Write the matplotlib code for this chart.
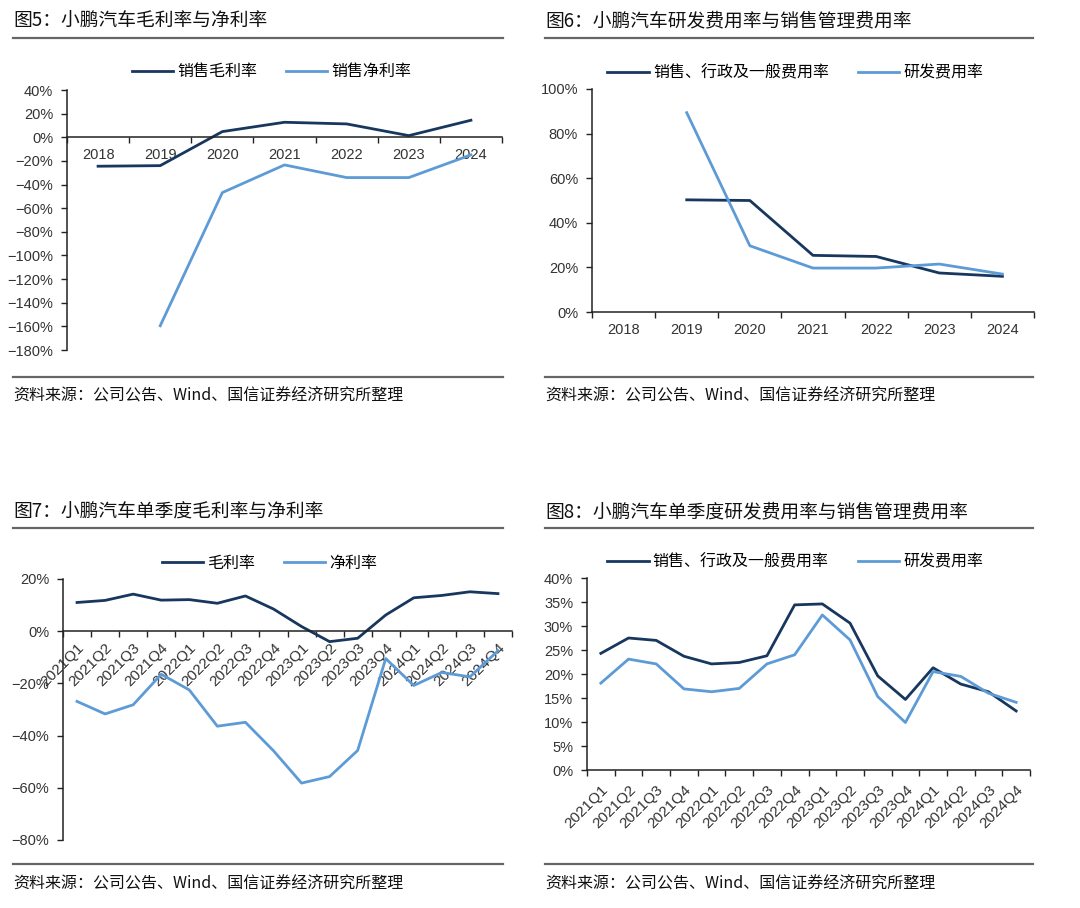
import numpy as np
import matplotlib
matplotlib.use("Agg")
import matplotlib.pyplot as plt
from matplotlib.lines import Line2D

plt.rcParams['font.family'] = ['Liberation Sans', 'Noto Sans CJK SC', 'DejaVu Sans']
plt.rcParams['axes.unicode_minus'] = True

# ---- data ----
years = ["2018", "2019", "2020", "2021", "2022", "2023", "2024"]
gross_margin_y = [-24.5, -24.0, 4.8, 12.7, 11.3, 1.4, 14.4]
net_margin_y = [np.nan, -159.5, -46.8, -23.4, -34.1, -34.1, -14.9]

sga_ratio_y = [np.nan, 50.3, 50.0, 25.4, 24.9, 17.5, 16.0]
rd_ratio_y = [np.nan, 89.4, 29.7, 19.7, 19.7, 21.5, 17.0]

quarters = ["2021Q1", "2021Q2", "2021Q3", "2021Q4", "2022Q1", "2022Q2", "2022Q3", "2022Q4",
            "2023Q1", "2023Q2", "2023Q3", "2023Q4", "2024Q1", "2024Q2", "2024Q3", "2024Q4"]
gross_margin_q = [11.0, 11.8, 14.2, 11.9, 12.1, 10.7, 13.5, 8.5,
                  1.8, -4.0, -2.7, 6.2, 12.8, 13.7, 15.1, 14.4]
net_margin_q = [-26.9, -31.7, -28.2, -16.5, -22.5, -36.4, -34.9, -45.8,
                -58.2, -55.7, -45.7, -10.5, -20.8, -15.8, -17.5, -7.5]

sga_ratio_q = [24.3, 27.5, 27.0, 23.7, 22.1, 22.4, 23.8, 34.4,
               34.6, 30.6, 19.6, 14.7, 21.3, 17.9, 16.3, 12.3]
rd_ratio_q = [18.1, 23.1, 22.1, 16.9, 16.3, 17.0, 22.1, 24.0,
              32.3, 27.1, 15.3, 9.9, 20.5, 19.5, 16.0, 14.1]

DARK = "#17375e"
LIGHT = "#5d9bd6"
W, H = 1080, 908

fig = plt.figure(figsize=(W / 100, H / 100), dpi=100)
fig.patch.set_facecolor("white")


def px_axes(left, right, top, bottom):
    return fig.add_axes([left / W, 1 - bottom / H, (right - left) / W, (bottom - top) / H])


def pct(v):
    return f"{v}%".replace("-", "\u2212")


def style_axes(ax, cats, yticks, rotate=False, xpad=9):
    n = len(cats)
    ax.set_xlim(-0.5, n - 0.5)
    ax.set_ylim(min(yticks), max(yticks))
    for s in ["top", "right"]:
        ax.spines[s].set_visible(False)
    ax.spines["bottom"].set_position(("data", 0))
    for s in ["left", "bottom"]:
        ax.spines[s].set_color("#222222")
        ax.spines[s].set_linewidth(1.1)
    ax.set_yticks(yticks)
    ax.set_yticklabels([pct(v) for v in yticks], fontsize=10.5, color="#333333")
    ax.tick_params(axis="y", direction="out", length=4, width=1.0, pad=6, color="#222222")
    ax.set_xticks(range(n))
    ax.set_xticks(np.arange(-0.5, n, 1.0), minor=True)
    ax.tick_params(axis="x", which="major", length=0, pad=xpad)
    ax.tick_params(axis="x", which="minor", direction="out", length=4, width=1.0, color="#222222")
    if rotate:
        ax.set_xticklabels(cats, rotation=45, ha="right", va="top", rotation_mode="anchor",
                           fontsize=11, color="#333333")
    else:
        ax.set_xticklabels(cats, fontsize=10.5, color="#333333")
    ax.patch.set_alpha(0)


def add_legend(ax, labels, xc, y):
    handles = [Line2D([], [], color=DARK, lw=2), Line2D([], [], color=LIGHT, lw=2)]
    ax.legend(handles, labels, loc="center", bbox_to_anchor=(xc, y), ncol=2, frameon=False,
              fontsize=11.5, handlelength=2.6, handletextpad=0.25, columnspacing=1.8)


def frame(x0, x1, title, ytitle, yline_top, yline_bot, yfoot):
    fig.text(x0 / W, 1 - ytitle / H, title, fontsize=13.5, va="center", ha="left",
             family=["Noto Sans CJK SC"], color="#111111")
    fig.add_artist(Line2D([x0 / W, x1 / W], [1 - yline_top / H] * 2, color="#666666", lw=1.6))
    fig.add_artist(Line2D([x0 / W, x1 / W], [1 - yline_bot / H] * 2, color="#666666", lw=1.6))
    fig.text(x0 / W, 1 - yfoot / H, "资料来源：公司公告、Wind、国信证券经济研究所整理", fontsize=11.5,
             va="center", ha="left", family=["Noto Sans CJK SC"], color="#111111")


# ---- 图5 ----
ax1 = px_axes(67, 502, 90, 350)
x = np.arange(len(years))
ax1.plot(x, gross_margin_y, color=DARK, lw=2)
ax1.plot(x, net_margin_y, color=LIGHT, lw=2)
style_axes(ax1, years, list(range(-180, 41, 20)), xpad=8)
add_legend(ax1, ["销售毛利率", "销售净利率"], 0.47, 1.07)
frame(13, 503, "图5：小鹏汽车毛利率与净利率", 21, 38, 377, 396)

# ---- 图6 ----
ax2 = px_axes(592, 1034, 89, 312)
ax2.plot(x, sga_ratio_y, color=DARK, lw=2)
ax2.plot(x, rd_ratio_y, color=LIGHT, lw=2)
style_axes(ax2, years, list(range(0, 101, 20)), xpad=8)
add_legend(ax2, ["销售、行政及一般费用率", "研发费用率"], 0.46, 1.075)
frame(545, 1033, "图6：小鹏汽车研发费用率与销售管理费用率", 21, 38, 377, 396)

# ---- 图7 ----
ax3 = px_axes(63, 512, 579, 840)
xq = np.arange(len(quarters))
ax3.plot(xq, gross_margin_q, color=DARK, lw=2)
ax3.plot(xq, net_margin_q, color=LIGHT, lw=2)
style_axes(ax3, quarters, list(range(-80, 21, 20)), rotate=True, xpad=7)
add_legend(ax3, ["毛利率", "净利率"], 0.46, 1.06)
frame(13, 503, "图7：小鹏汽车单季度毛利率与净利率", 512, 528, 864, 884)

# ---- 图8 ----
ax4 = px_axes(587, 1030, 578, 770)
ax4.plot(xq, sga_ratio_q, color=DARK, lw=2)
ax4.plot(xq, rd_ratio_q, color=LIGHT, lw=2)
style_axes(ax4, quarters, list(range(0, 41, 5)), rotate=True, xpad=9)
add_legend(ax4, ["销售、行政及一般费用率", "研发费用率"], 0.47, 1.085)
frame(545, 1033, "图8：小鹏汽车单季度研发费用率与销售管理费用率", 512, 528, 864, 884)

fig.savefig("out.png", dpi=100, facecolor="white")
